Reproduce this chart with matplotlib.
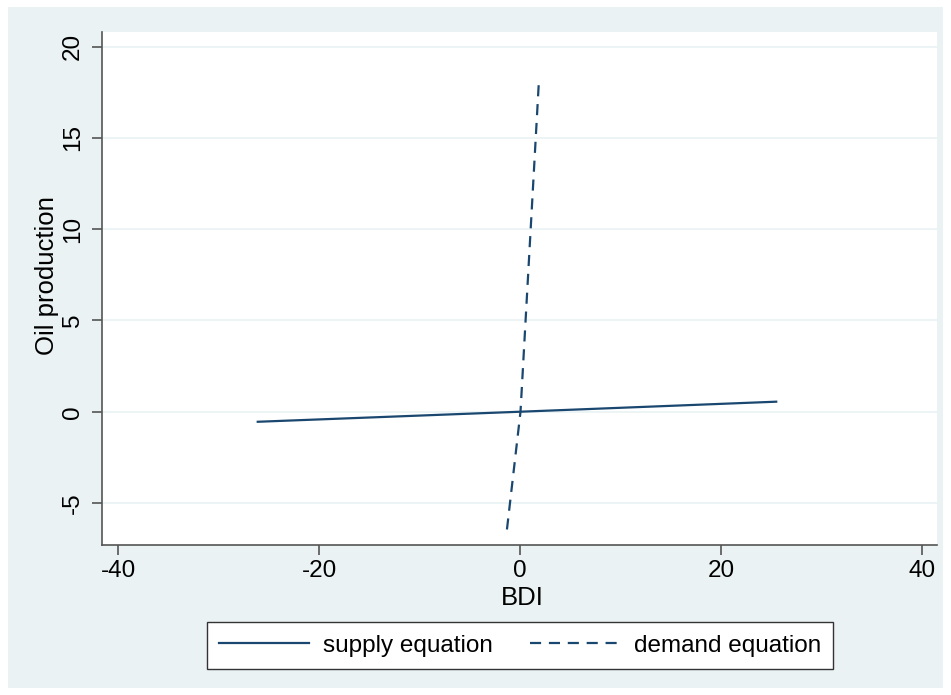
import matplotlib
matplotlib.use("Agg")
import matplotlib.pyplot as plt
from matplotlib.patches import Rectangle

# valores
supply_x = [-26.1, 0.0, 25.5]
supply_y = [-0.55, 0.0, 0.55]
demand_x = [-1.3, 0.05, 1.9]
demand_y = [-6.45, 0.0, 18.3]

x_ticks = [-40, -20, 0, 20, 40]
y_ticks = [-5, 0, 5, 10, 15, 20]

navy = "#1a476f"
bg = "#eaf2f3"

plt.rcParams["font.family"] = ["Liberation Sans", "DejaVu Sans"]
plt.rcParams["axes.unicode_minus"] = False

fig = plt.figure(figsize=(9.51, 6.95), dpi=100, facecolor="white")
fig.patches.append(Rectangle((8 / 951, 1 - 688 / 695), 935 / 951, 681 / 695,
                             transform=fig.transFigure, facecolor=bg,
                             edgecolor="none", zorder=-10))

ax = fig.add_axes([102 / 951, 1 - 545 / 695, 835 / 951, 513 / 695])
ax.set_facecolor("white")

ax.plot(supply_x, supply_y, color=navy, lw=1.6, label="supply equation")
ax.plot(demand_x, demand_y, color=navy, lw=1.6, ls=(0, (5, 3.5)),
        label="demand equation")

ax.set_xlim(-41.6, 41.5)
ax.set_ylim(-7.3, 20.8)
ax.set_xticks(x_ticks)
ax.set_yticks(y_ticks)
ax.set_yticklabels([str(v) for v in y_ticks], rotation=90, va="center")
ax.grid(axis="y", color=bg, lw=1.2)
ax.set_axisbelow(True)

for s in ["top", "right"]:
    ax.spines[s].set_visible(False)
for s in ["left", "bottom"]:
    ax.spines[s].set_color("#555555")
    ax.spines[s].set_linewidth(1.2)
ax.tick_params(length=7, width=1.2, color="#555555", labelsize=17.5,
               labelcolor="black")
ax.tick_params(axis="x", pad=4)
ax.tick_params(axis="y", pad=6)

ax.set_xlabel("BDI", fontsize=18.5)
ax.set_ylabel("Oil production", fontsize=18.5)
ax.xaxis.label.set_va("center")
ax.yaxis.label.set_va("center")
ax.xaxis.set_label_coords(0.5035, (545 - 598) / 513)
ax.yaxis.set_label_coords((47 - 102) / 835, 0.5 - (276 - 288.5) / 513)

leg = fig.legend(loc="center", bbox_to_anchor=(520 / 951, 1 - 645.5 / 695),
                 ncol=2, fontsize=17.5, frameon=True, fancybox=False,
                 facecolor="white", framealpha=1.0,
                 edgecolor="#333333", handlelength=3.7, columnspacing=1.5,
                 borderpad=0.5, handletextpad=0.6)
leg.get_frame().set_linewidth(1.0)

fig.savefig("out.png", dpi=100, facecolor="white")
